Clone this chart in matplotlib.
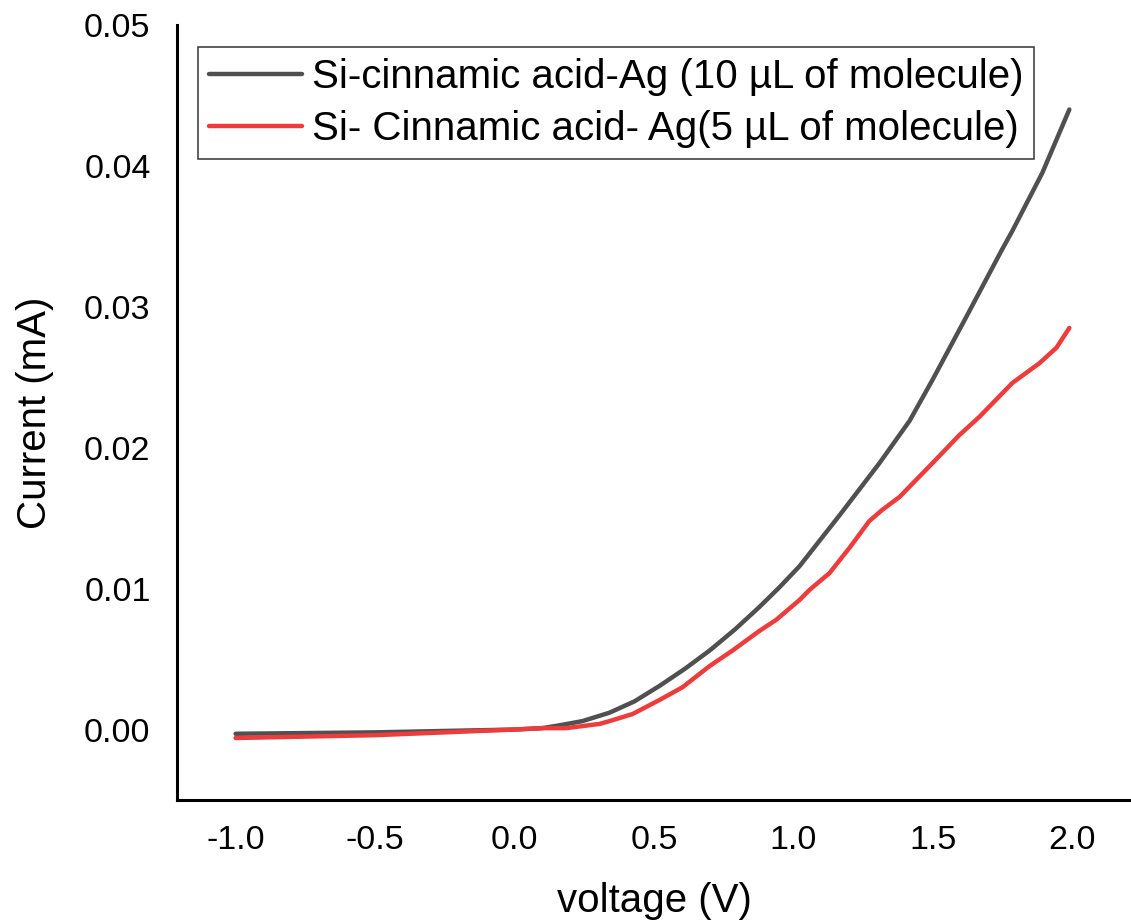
import matplotlib.pyplot as plt

plt.rcParams['font.family'] = ['Liberation Sans', 'DejaVu Sans']

# I-V readings, voltage in V and current in mA
v_10uL = [-1.0, -0.75, -0.5, -0.25, 0.0, 0.1, 0.161, 0.244, 0.341, 0.43, 0.52, 0.61, 0.699,
          0.79, 0.878, 0.95, 1.022, 1.165, 1.308, 1.416, 1.498, 1.62, 1.746, 1.785, 1.892, 1.989]
i_10uL = [-0.0003, -0.00025, -0.0002, -0.0001, 0.0, 0.0001, 0.0003, 0.0006, 0.0012, 0.002, 0.0031, 0.0043, 0.0056,
          0.0071, 0.0087, 0.0101, 0.0116, 0.0152, 0.0189, 0.0219, 0.0248, 0.0293, 0.034, 0.0354, 0.0395, 0.044]

v_5uL = [-1.0, -0.75, -0.5, -0.25, 0.0, 0.1, 0.186, 0.305, 0.341, 0.423, 0.52, 0.602, 0.699, 0.781,
         0.878, 0.939, 1.022, 1.057, 1.129, 1.201, 1.272, 1.319, 1.38, 1.498, 1.595, 1.667,
         1.785, 1.882, 1.943, 1.989]
i_5uL = [-0.0006, -0.0005, -0.0004, -0.0002, 0.0, 0.0001, 0.0001, 0.0004, 0.0006, 0.0011, 0.0021, 0.003, 0.0045, 0.0056,
         0.007, 0.0078, 0.0092, 0.0099, 0.0111, 0.0129, 0.0148, 0.0156, 0.0165, 0.0189, 0.0209, 0.0222,
         0.0246, 0.026, 0.0271, 0.0285]

labels = ['Si-cinnamic acid-Ag (10 µL of molecule)', 'Si- Cinnamic acid- Ag(5 µL of molecule)']
xticks = [-1.0, -0.5, 0.0, 0.5, 1.0, 1.5, 2.0]
yticks = [0.00, 0.01, 0.02, 0.03, 0.04, 0.05]

fig = plt.figure(figsize=(11.31, 9.24), dpi=100)
ax = fig.add_axes([0.1565, 0.1342, 0.8435, 0.8388])

ax.plot(v_10uL, i_10uL, color='#505050', lw=3.2, label=labels[0], solid_capstyle='round')
ax.plot(v_5uL, i_5uL, color='#EE3B3B', lw=3.2, label=labels[1], solid_capstyle='round')

ax.set_xlim(-1.21, 2.21)
ax.set_ylim(-0.005, 0.05)
ax.set_xticks(xticks)
ax.set_xticklabels(['%.1f' % t for t in xticks])
ax.set_yticks(yticks)
ax.set_yticklabels(['%.2f' % t for t in yticks])
ax.tick_params(length=0, labelsize=24.5, pad=18)
ax.tick_params(axis='y', pad=19)

for s in ['top', 'right']:
    ax.spines[s].set_visible(False)
for s in ['left', 'bottom']:
    ax.spines[s].set_linewidth(2.2)
    ax.spines[s].set_color('black')

ax.set_xlabel('voltage (V)', fontsize=29, labelpad=19)
ax.set_ylabel('Current (mA)', fontsize=29, labelpad=22)

leg = ax.legend(loc='upper left', bbox_to_anchor=(198 / 1131, 1 - 47 / 924),
                bbox_transform=fig.transFigure, fontsize=29, frameon=True,
                fancybox=False, edgecolor='black', handlelength=2.3,
                handletextpad=0.25, borderpad=0.27, labelspacing=0.35,
                borderaxespad=0)
leg.get_frame().set_linewidth(1.1)

fig.savefig('out.png', dpi=100)
